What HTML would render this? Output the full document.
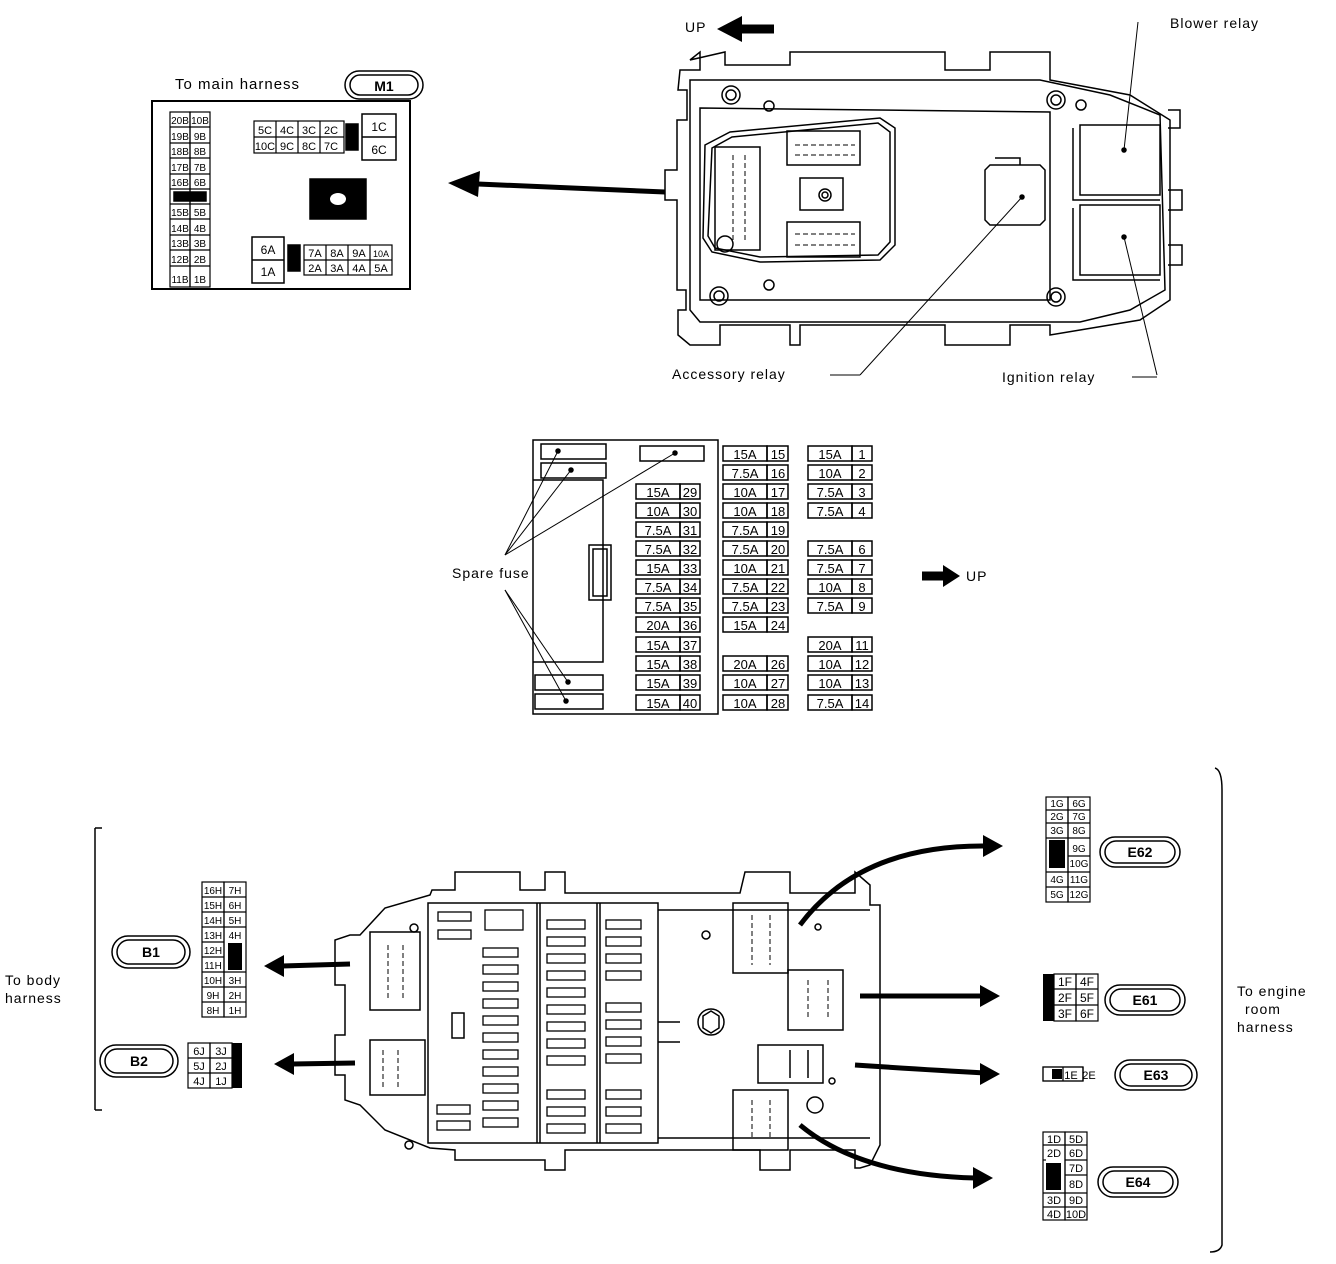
<!DOCTYPE html>
<html><head><meta charset="utf-8"><style>
html,body{margin:0;padding:0;background:#fff}
svg{display:block}
text{font-family:"Liberation Sans",Arial,sans-serif;fill:#000}
</style></head><body>
<svg width="1336" height="1264" viewBox="0 0 1336 1264" xmlns="http://www.w3.org/2000/svg">
<defs>
<marker id="ah" markerWidth="10" markerHeight="10" refX="2" refY="5" orient="auto" markerUnits="userSpaceOnUse"><path d="M0,0 L10,5 L0,10 Z"/></marker>
</defs>
<g fill="none" stroke="#000" stroke-width="1.5">

<!-- ===== TOP LEFT M1 ===== -->
<rect x="152" y="101" width="258" height="188" stroke-width="2"/>
<text x="175" y="89" font-size="15" stroke="none" letter-spacing="1">To main harness</text>
<rect x="345" y="71" width="78" height="28" rx="14"/>
<rect x="350" y="75" width="68" height="20" rx="10"/>
<text x="384" y="91" font-size="14" font-weight="bold" stroke="none" text-anchor="middle">M1</text>
<!-- B column -->
<g stroke-width="1.2">
<rect x="170" y="112" width="20" height="175"/><rect x="190" y="112" width="20" height="175"/>
<line x1="170" y1="127" x2="210" y2="127"/><line x1="170" y1="143" x2="210" y2="143"/>
<line x1="170" y1="158" x2="210" y2="158"/><line x1="170" y1="174" x2="210" y2="174"/>
<line x1="170" y1="189" x2="210" y2="189"/><line x1="170" y1="204" x2="210" y2="204"/>
<line x1="170" y1="219" x2="210" y2="219"/><line x1="170" y1="235" x2="210" y2="235"/>
<line x1="170" y1="250" x2="210" y2="250"/><line x1="170" y1="266" x2="210" y2="266"/>
</g>
<rect x="174" y="192" width="32" height="9" fill="#000"/>
<g font-size="10" stroke="none" text-anchor="middle">
<text x="180" y="124" stroke="none">20B</text><text x="200" y="124">10B</text>
<text x="180" y="140">19B</text><text x="200" y="140">9B</text>
<text x="180" y="155">18B</text><text x="200" y="155">8B</text>
<text x="180" y="171">17B</text><text x="200" y="171">7B</text>
<text x="180" y="186">16B</text><text x="200" y="186">6B</text>
<text x="180" y="216">15B</text><text x="200" y="216">5B</text>
<text x="180" y="232">14B</text><text x="200" y="232">4B</text>
<text x="180" y="247">13B</text><text x="200" y="247">3B</text>
<text x="180" y="263">12B</text><text x="200" y="263">2B</text>
<text x="180" y="283">11B</text><text x="200" y="283">1B</text>
</g>
<!-- C group -->
<rect x="254" y="121" width="90" height="32" stroke-width="1.2"/>
<line x1="254" y1="137" x2="344" y2="137" stroke-width="1.2"/>
<line x1="276" y1="121" x2="276" y2="153" stroke-width="1.2"/><line x1="298" y1="121" x2="298" y2="153" stroke-width="1.2"/><line x1="320" y1="121" x2="320" y2="153" stroke-width="1.2"/>
<rect x="346" y="124" width="12" height="26" fill="#000"/>
<rect x="362" y="114" width="34" height="46"/><line x1="362" y1="137" x2="396" y2="137"/>
<g font-size="11" stroke="none" text-anchor="middle">
<text x="265" y="134">5C</text><text x="287" y="134">4C</text><text x="309" y="134">3C</text><text x="331" y="134">2C</text>
<text x="265" y="150">10C</text><text x="287" y="150">9C</text><text x="309" y="150">8C</text><text x="331" y="150">7C</text>
<text x="379" y="131" font-size="12">1C</text><text x="379" y="154" font-size="12">6C</text>
</g>
<rect x="310" y="179" width="56" height="40" fill="#000"/>
<ellipse cx="338" cy="199" rx="8" ry="6" fill="#fff" stroke="none"/>
<!-- A group -->
<rect x="252" y="237" width="32" height="46"/><line x1="252" y1="260" x2="284" y2="260"/>
<rect x="288" y="245" width="12" height="26" fill="#000"/>
<rect x="304" y="245" width="88" height="30" stroke-width="1.2"/>
<line x1="304" y1="260" x2="392" y2="260" stroke-width="1.2"/>
<line x1="326" y1="245" x2="326" y2="275" stroke-width="1.2"/><line x1="348" y1="245" x2="348" y2="275" stroke-width="1.2"/><line x1="370" y1="245" x2="370" y2="275" stroke-width="1.2"/>
<g font-size="11" stroke="none" text-anchor="middle">
<text x="268" y="254" font-size="12">6A</text><text x="268" y="276" font-size="12">1A</text>
<text x="315" y="257">7A</text><text x="337" y="257">8A</text><text x="359" y="257">9A</text><text x="381" y="257" font-size="9">10A</text>
<text x="315" y="272">2A</text><text x="337" y="272">3A</text><text x="359" y="272">4A</text><text x="381" y="272">5A</text>
</g>
<!-- big arrow -->
<path d="M665,192 L478,184" stroke-width="5"/>
<path d="M448,183 L480,171 L478,197 Z" fill="#000" stroke="none"/>

<!-- ===== TOP RIGHT RELAY BOX ===== -->
<text x="685" y="32" font-size="14" stroke="none" letter-spacing="1">UP</text>
<path d="M774,29 L740,29" stroke-width="9"/>
<path d="M717,29 L742,16 L742,42 Z" fill="#000" stroke="none"/>
<path d="M690,60 L700,52 L700,70 L680,70 L678,90 L687,90 L687,120 L677,120 L677,170 L665,170 L665,200 L677,200 L677,290 L686,290 L686,310 L678,310 L678,335 L690,345 L720,345 L720,325 L790,325 L790,345 L800,345 L800,325 L945,325 L945,345 L1010,345 L1010,325 L1050,325 L1050,335 L1080,330 L1140,320 L1170,300 L1170,120 L1130,95 L1050,80 L1050,52 L990,52 L990,70 L945,70 L945,52 L790,52 L790,65 L725,65 L725,52 Z"/>
<path d="M690,80 L1040,80 L1110,95 L1160,115 L1165,290 L1130,310 L1080,322 L1040,322 L700,322 L690,310 Z"/>
<path d="M700,108 L1050,112 L1050,300 L700,300 Z"/>
<path d="M1168,110 L1180,110 L1180,128 L1168,128 M1168,190 L1182,190 L1182,210 L1168,210 M1168,245 L1182,245 L1182,265 L1168,265"/>
<circle cx="731" cy="95" r="9"/><circle cx="731" cy="95" r="5"/>
<circle cx="1056" cy="100" r="9"/><circle cx="1056" cy="100" r="5"/>
<circle cx="719" cy="296" r="9"/><circle cx="719" cy="296" r="5"/>
<circle cx="1056" cy="297" r="9"/><circle cx="1056" cy="297" r="5"/>
<circle cx="769" cy="106" r="5"/><circle cx="769" cy="285" r="5"/><circle cx="1081" cy="105" r="5"/>
<circle cx="725" cy="244" r="8"/>
<path d="M705,145 L730,132 L880,118 L895,128 L895,245 L880,260 L760,262 L712,252 L703,238 Z"/>
<path d="M712,148 L732,137 L878,123 L890,132 L890,242 L878,255 L760,257 L715,248 L708,236 Z"/>
<path d="M715,147 L760,147 L760,250 L715,250 Z"/>
<line x1="733" y1="155" x2="733" y2="240" stroke-dasharray="5,3" stroke-width="1"/>
<line x1="745" y1="155" x2="745" y2="240" stroke-dasharray="5,3" stroke-width="1"/>
<path d="M787,131 L860,131 L860,165 L787,165 Z"/>
<line x1="795" y1="145" x2="855" y2="145" stroke-dasharray="5,3" stroke-width="1"/>
<line x1="795" y1="155" x2="855" y2="155" stroke-dasharray="5,3" stroke-width="1"/>
<path d="M787,222 L860,222 L860,257 L787,257 Z"/>
<line x1="795" y1="234" x2="855" y2="234" stroke-dasharray="5,3" stroke-width="1"/>
<line x1="795" y1="245" x2="855" y2="245" stroke-dasharray="5,3" stroke-width="1"/>
<rect x="800" y="178" width="43" height="32"/><circle cx="825" cy="195" r="6"/><circle cx="825" cy="195" r="3"/>
<path d="M990,165 L1040,165 L1045,170 L1045,220 L1040,225 L990,225 L985,220 L985,170 Z"/>
<path d="M995,158 L1020,158 L1020,165"/>
<path d="M1080,125 L1160,125 L1160,195 L1080,195 Z"/><path d="M1073,128 L1073,200 L1160,200"/>
<path d="M1080,205 L1160,205 L1160,275 L1080,275 Z"/><path d="M1073,208 L1073,280 L1160,280"/>
<circle cx="1124" cy="150" r="2" fill="#000"/><circle cx="1124" cy="237" r="2" fill="#000"/><circle cx="1022" cy="197" r="2" fill="#000"/>
<line x1="1124" y1="150" x2="1138" y2="22" stroke-width="1"/>
<line x1="1124" y1="237" x2="1157" y2="375" stroke-width="1"/>
<line x1="1022" y1="197" x2="860" y2="375" stroke-width="1"/>
<text x="1170" y="28" font-size="14" stroke="none" letter-spacing="1">Blower relay</text>
<text x="672" y="379" font-size="14" stroke="none" letter-spacing="1">Accessory relay</text>
<line x1="830" y1="375" x2="860" y2="375" stroke-width="1"/>
<text x="1002" y="382" font-size="14" stroke="none" letter-spacing="1">Ignition relay</text>
<line x1="1132" y1="377" x2="1157" y2="377" stroke-width="1"/>

<!-- ===== FUSE PANEL ===== -->
<path d="M533,440 L718,440 L718,714 L533,714 Z" stroke-width="1.5"/>
<path d="M533,480 L603,480 L603,662 L533,662"/>
<rect x="541" y="444" width="65" height="15"/><rect x="541" y="463" width="65" height="15"/>
<rect x="640" y="446" width="64" height="15"/>
<rect x="535" y="675" width="68" height="15"/><rect x="535" y="694" width="68" height="15"/>
<rect x="589" y="545" width="22" height="55"/><rect x="593" y="549" width="14" height="47"/>
<circle cx="558" cy="451" r="2" fill="#000"/><circle cx="571" cy="470" r="2" fill="#000"/><circle cx="675" cy="453" r="2" fill="#000"/>
<circle cx="568" cy="682" r="2" fill="#000"/><circle cx="566" cy="701" r="2" fill="#000"/>
<line x1="505" y1="555" x2="558" y2="451" stroke-width="1"/>
<line x1="505" y1="555" x2="571" y2="470" stroke-width="1"/>
<line x1="505" y1="555" x2="675" y2="453" stroke-width="1"/>
<line x1="505" y1="590" x2="568" y2="682" stroke-width="1"/>
<line x1="505" y1="590" x2="566" y2="701" stroke-width="1"/>
<text x="452" y="578" font-size="14" stroke="none" letter-spacing="1">Spare fuse</text>
<path d="M922,576 L945,576" stroke-width="9"/><path d="M943,565 L960,576 L943,587 Z" fill="#000" stroke="none"/>
<text x="966" y="581" font-size="14" stroke="none" letter-spacing="1">UP</text>
</g>

<!-- fuse cells -->
<g font-size="13" stroke="#000" stroke-width="1.5" fill="none">
<!-- col A 636 -->
<g id="ca">
<rect x="636" y="484" width="44" height="15"/><rect x="680" y="484" width="20" height="15"/>
<rect x="636" y="503" width="44" height="15"/><rect x="680" y="503" width="20" height="15"/>
<rect x="636" y="522" width="44" height="15"/><rect x="680" y="522" width="20" height="15"/>
<rect x="636" y="541" width="44" height="15"/><rect x="680" y="541" width="20" height="15"/>
<rect x="636" y="560" width="44" height="15"/><rect x="680" y="560" width="20" height="15"/>
<rect x="636" y="579" width="44" height="15"/><rect x="680" y="579" width="20" height="15"/>
<rect x="636" y="598" width="44" height="15"/><rect x="680" y="598" width="20" height="15"/>
<rect x="636" y="617" width="44" height="15"/><rect x="680" y="617" width="20" height="15"/>
<rect x="636" y="637" width="44" height="15"/><rect x="680" y="637" width="20" height="15"/>
<rect x="636" y="656" width="44" height="15"/><rect x="680" y="656" width="20" height="15"/>
<rect x="636" y="675" width="44" height="15"/><rect x="680" y="675" width="20" height="15"/>
<rect x="636" y="695" width="44" height="15"/><rect x="680" y="695" width="20" height="15"/>
</g>
<!-- col B 723 -->
<rect x="723" y="446" width="44" height="15"/><rect x="767" y="446" width="21" height="15"/>
<rect x="723" y="465" width="44" height="15"/><rect x="767" y="465" width="21" height="15"/>
<rect x="723" y="484" width="44" height="15"/><rect x="767" y="484" width="21" height="15"/>
<rect x="723" y="503" width="44" height="15"/><rect x="767" y="503" width="21" height="15"/>
<rect x="723" y="522" width="44" height="15"/><rect x="767" y="522" width="21" height="15"/>
<rect x="723" y="541" width="44" height="15"/><rect x="767" y="541" width="21" height="15"/>
<rect x="723" y="560" width="44" height="15"/><rect x="767" y="560" width="21" height="15"/>
<rect x="723" y="579" width="44" height="15"/><rect x="767" y="579" width="21" height="15"/>
<rect x="723" y="598" width="44" height="15"/><rect x="767" y="598" width="21" height="15"/>
<rect x="723" y="617" width="44" height="15"/><rect x="767" y="617" width="21" height="15"/>
<rect x="723" y="656" width="44" height="15"/><rect x="767" y="656" width="21" height="15"/>
<rect x="723" y="675" width="44" height="15"/><rect x="767" y="675" width="21" height="15"/>
<rect x="723" y="695" width="44" height="15"/><rect x="767" y="695" width="21" height="15"/>
<!-- col C 808 -->
<rect x="808" y="446" width="44" height="15"/><rect x="852" y="446" width="20" height="15"/>
<rect x="808" y="465" width="44" height="15"/><rect x="852" y="465" width="20" height="15"/>
<rect x="808" y="484" width="44" height="15"/><rect x="852" y="484" width="20" height="15"/>
<rect x="808" y="503" width="44" height="15"/><rect x="852" y="503" width="20" height="15"/>
<rect x="808" y="541" width="44" height="15"/><rect x="852" y="541" width="20" height="15"/>
<rect x="808" y="560" width="44" height="15"/><rect x="852" y="560" width="20" height="15"/>
<rect x="808" y="579" width="44" height="15"/><rect x="852" y="579" width="20" height="15"/>
<rect x="808" y="598" width="44" height="15"/><rect x="852" y="598" width="20" height="15"/>
<rect x="808" y="637" width="44" height="15"/><rect x="852" y="637" width="20" height="15"/>
<rect x="808" y="656" width="44" height="15"/><rect x="852" y="656" width="20" height="15"/>
<rect x="808" y="675" width="44" height="15"/><rect x="852" y="675" width="20" height="15"/>
<rect x="808" y="695" width="44" height="15"/><rect x="852" y="695" width="20" height="15"/>
</g>
<g font-size="13" text-anchor="middle">
<text x="658" y="497">15A</text><text x="690" y="497">29</text>
<text x="658" y="516">10A</text><text x="690" y="516">30</text>
<text x="658" y="535">7.5A</text><text x="690" y="535">31</text>
<text x="658" y="554">7.5A</text><text x="690" y="554">32</text>
<text x="658" y="573">15A</text><text x="690" y="573">33</text>
<text x="658" y="592">7.5A</text><text x="690" y="592">34</text>
<text x="658" y="611">7.5A</text><text x="690" y="611">35</text>
<text x="658" y="630">20A</text><text x="690" y="630">36</text>
<text x="658" y="650">15A</text><text x="690" y="650">37</text>
<text x="658" y="669">15A</text><text x="690" y="669">38</text>
<text x="658" y="688">15A</text><text x="690" y="688">39</text>
<text x="658" y="708">15A</text><text x="690" y="708">40</text>
<text x="745" y="459">15A</text><text x="778" y="459">15</text>
<text x="745" y="478">7.5A</text><text x="778" y="478">16</text>
<text x="745" y="497">10A</text><text x="778" y="497">17</text>
<text x="745" y="516">10A</text><text x="778" y="516">18</text>
<text x="745" y="535">7.5A</text><text x="778" y="535">19</text>
<text x="745" y="554">7.5A</text><text x="778" y="554">20</text>
<text x="745" y="573">10A</text><text x="778" y="573">21</text>
<text x="745" y="592">7.5A</text><text x="778" y="592">22</text>
<text x="745" y="611">7.5A</text><text x="778" y="611">23</text>
<text x="745" y="630">15A</text><text x="778" y="630">24</text>
<text x="745" y="669">20A</text><text x="778" y="669">26</text>
<text x="745" y="688">10A</text><text x="778" y="688">27</text>
<text x="745" y="708">10A</text><text x="778" y="708">28</text>
<text x="830" y="459">15A</text><text x="862" y="459">1</text>
<text x="830" y="478">10A</text><text x="862" y="478">2</text>
<text x="830" y="497">7.5A</text><text x="862" y="497">3</text>
<text x="830" y="516">7.5A</text><text x="862" y="516">4</text>
<text x="830" y="554">7.5A</text><text x="862" y="554">6</text>
<text x="830" y="573">7.5A</text><text x="862" y="573">7</text>
<text x="830" y="592">10A</text><text x="862" y="592">8</text>
<text x="830" y="611">7.5A</text><text x="862" y="611">9</text>
<text x="830" y="650">20A</text><text x="862" y="650">11</text>
<text x="830" y="669">10A</text><text x="862" y="669">12</text>
<text x="830" y="688">10A</text><text x="862" y="688">13</text>
<text x="830" y="708">7.5A</text><text x="862" y="708">14</text>
</g>

<!-- ===== BOTTOM JUNCTION BLOCK ===== -->
<g fill="none" stroke="#000" stroke-width="1.5">
<path d="M95,828 L95,1110 M95,828 L102,828 M95,1110 L102,1110" stroke-width="1.5"/>
<path d="M1215,768 Q1222,770 1222,790 L1222,1245 Q1220,1252 1210,1252" stroke-width="1.5"/>
<text x="5" y="985" font-size="14" stroke="none" letter-spacing="1">To body</text>
<text x="5" y="1003" font-size="14" stroke="none" letter-spacing="1">harness</text>
<text x="1237" y="996" font-size="14" stroke="none" letter-spacing="1">To engine</text>
<text x="1245" y="1014" font-size="14" stroke="none" letter-spacing="1">room</text>
<text x="1237" y="1032" font-size="14" stroke="none" letter-spacing="1">harness</text>

<path d="M360,935 L385,908 L430,895 L432,890 L455,890 L455,872 L520,872 L520,890 L545,890 L545,872 L565,872 L565,893 L740,893 L745,872 L790,872 L790,893 L855,893 L855,872 L870,885 L870,905 L880,905 L880,1145 L870,1165 L860,1168 L855,1168 L855,1150 L790,1150 L790,1170 L760,1170 L760,1150 L565,1150 L565,1170 L545,1170 L545,1160 L455,1160 L455,1150 L430,1148 L385,1130 L360,1105 L345,1100 L345,1075 L335,1075 L335,1035 L345,1035 L345,985 L335,985 L335,940 L350,935 Z"/>
<rect x="428" y="903" width="230" height="240"/>
<line x1="537" y1="903" x2="537" y2="1143"/><line x1="540" y1="903" x2="540" y2="1143"/>
<line x1="597" y1="903" x2="597" y2="1143"/><line x1="600" y1="903" x2="600" y2="1143"/>
<line x1="658" y1="910" x2="870" y2="910"/><line x1="658" y1="1138" x2="870" y2="1138"/>
<line x1="658" y1="1022" x2="680" y2="1022"/><line x1="658" y1="1042" x2="680" y2="1042"/>
<!-- small fuse slots -->
<g stroke-width="1.3">
<rect x="438" y="912" width="33" height="9"/><rect x="438" y="930" width="33" height="9"/>
<rect x="485" y="910" width="38" height="20"/>
<rect x="437" y="1105" width="33" height="9"/><rect x="437" y="1121" width="33" height="9"/>
<rect x="483" y="948" width="35" height="9"/><rect x="483" y="965" width="35" height="9"/><rect x="483" y="982" width="35" height="9"/><rect x="483" y="999" width="35" height="9"/><rect x="483" y="1016" width="35" height="9"/><rect x="483" y="1033" width="35" height="9"/><rect x="483" y="1050" width="35" height="9"/><rect x="483" y="1067" width="35" height="9"/><rect x="483" y="1084" width="35" height="9"/><rect x="483" y="1101" width="35" height="9"/><rect x="483" y="1118" width="35" height="9"/>
<rect x="547" y="920" width="38" height="9"/><rect x="547" y="937" width="38" height="9"/><rect x="547" y="954" width="38" height="9"/><rect x="547" y="971" width="38" height="9"/><rect x="547" y="988" width="38" height="9"/><rect x="547" y="1005" width="38" height="9"/><rect x="547" y="1022" width="38" height="9"/><rect x="547" y="1039" width="38" height="9"/><rect x="547" y="1056" width="38" height="9"/><rect x="547" y="1090" width="38" height="9"/><rect x="547" y="1107" width="38" height="9"/><rect x="547" y="1124" width="38" height="9"/>
<rect x="606" y="920" width="35" height="9"/><rect x="606" y="937" width="35" height="9"/><rect x="606" y="954" width="35" height="9"/><rect x="606" y="971" width="35" height="9"/><rect x="606" y="1003" width="35" height="9"/><rect x="606" y="1020" width="35" height="9"/><rect x="606" y="1037" width="35" height="9"/><rect x="606" y="1054" width="35" height="9"/><rect x="606" y="1090" width="35" height="9"/><rect x="606" y="1107" width="35" height="9"/><rect x="606" y="1124" width="35" height="9"/>
</g>
<rect x="452" y="1013" width="12" height="25"/>
<!-- connectors -->
<rect x="370" y="932" width="50" height="78"/><line x1="388" y1="945" x2="388" y2="1000" stroke-dasharray="5,3" stroke-width="1"/><line x1="403" y1="945" x2="403" y2="1000" stroke-dasharray="5,3" stroke-width="1"/>
<rect x="370" y="1040" width="55" height="55"/><line x1="383" y1="1050" x2="383" y2="1090" stroke-dasharray="5,3" stroke-width="1"/><line x1="398" y1="1050" x2="398" y2="1090" stroke-dasharray="5,3" stroke-width="1"/>
<rect x="733" y="903" width="55" height="70"/><line x1="752" y1="915" x2="752" y2="965" stroke-dasharray="5,3" stroke-width="1"/><line x1="770" y1="915" x2="770" y2="965" stroke-dasharray="5,3" stroke-width="1"/>
<rect x="788" y="970" width="55" height="60"/><line x1="808" y1="980" x2="808" y2="1020" stroke-dasharray="5,3" stroke-width="1"/><line x1="828" y1="980" x2="828" y2="1020" stroke-dasharray="5,3" stroke-width="1"/>
<rect x="758" y="1045" width="65" height="38"/><line x1="790" y1="1050" x2="790" y2="1078"/><line x1="808" y1="1050" x2="808" y2="1078"/>
<rect x="733" y="1090" width="55" height="60"/><line x1="752" y1="1100" x2="752" y2="1140" stroke-dasharray="5,3" stroke-width="1"/><line x1="770" y1="1100" x2="770" y2="1140" stroke-dasharray="5,3" stroke-width="1"/>
<circle cx="711" cy="1022" r="13"/><path d="M703,1016 L711,1011 L719,1016 L719,1028 L711,1033 L703,1028 Z"/>
<circle cx="815" cy="1105" r="8"/><circle cx="706" cy="935" r="4"/><circle cx="414" cy="928" r="4"/><circle cx="409" cy="1145" r="4"/><circle cx="832" cy="1081" r="3"/><circle cx="818" cy="927" r="3"/>
</g>
<!-- harness arrows -->
<g stroke="#000" fill="none" stroke-width="5">
<path d="M350,964 L282,966"/><path d="M355,1063 L292,1064"/>
<path d="M800,925 Q860,845 985,846"/>
<path d="M860,996 L980,996"/>
<path d="M855,1065 Q930,1070 985,1073"/>
<path d="M800,1125 Q860,1175 975,1178"/>
</g>
<g fill="#000">
<path d="M264,966 L284,955 L284,977 Z"/><path d="M274,1064 L294,1053 L294,1075 Z"/>
<path d="M1003,846 L983,835 L983,857 Z"/><path d="M1000,996 L980,985 L980,1007 Z"/>
<path d="M1000,1074 L980,1063 L980,1085 Z"/><path d="M993,1178 L973,1167 L973,1189 Z"/>
</g>

<!-- B1 / B2 -->
<g fill="none" stroke="#000" stroke-width="1.5">
<rect x="112" y="936" width="78" height="32" rx="16"/><rect x="117" y="940" width="68" height="24" rx="12"/>
<rect x="100" y="1045" width="78" height="32" rx="16"/><rect x="105" y="1049" width="68" height="24" rx="12"/>
<g stroke-width="1.2">
<rect x="202" y="882" width="22" height="135"/><rect x="224" y="882" width="22" height="135"/>
<line x1="202" y1="897" x2="246" y2="897"/><line x1="202" y1="912" x2="246" y2="912"/><line x1="202" y1="927" x2="246" y2="927"/><line x1="202" y1="942" x2="224" y2="942"/><line x1="202" y1="957" x2="224" y2="957"/><line x1="202" y1="972" x2="246" y2="972"/><line x1="202" y1="987" x2="246" y2="987"/><line x1="202" y1="1002" x2="246" y2="1002"/>
<rect x="188" y="1043" width="22" height="45"/><rect x="210" y="1043" width="22" height="45"/>
<line x1="188" y1="1058" x2="232" y2="1058"/><line x1="188" y1="1073" x2="232" y2="1073"/>
</g>
</g>
<rect x="228" y="943" width="14" height="27" fill="#000"/>
<rect x="232" y="1043" width="10" height="45" fill="#000"/>
<g font-size="14" font-weight="bold" text-anchor="middle">
<text x="151" y="957">B1</text><text x="139" y="1066">B2</text>
</g>
<g font-size="10" text-anchor="middle">
<text x="213" y="894">16H</text><text x="235" y="894">7H</text>
<text x="213" y="909">15H</text><text x="235" y="909">6H</text>
<text x="213" y="924">14H</text><text x="235" y="924">5H</text>
<text x="213" y="939">13H</text><text x="235" y="939">4H</text>
<text x="213" y="954">12H</text>
<text x="213" y="969">11H</text>
<text x="213" y="984">10H</text><text x="235" y="984">3H</text>
<text x="213" y="999">9H</text><text x="235" y="999">2H</text>
<text x="213" y="1014">8H</text><text x="235" y="1014">1H</text>
<text x="199" y="1055" font-size="11">6J</text><text x="221" y="1055" font-size="11">3J</text>
<text x="199" y="1070" font-size="11">5J</text><text x="221" y="1070" font-size="11">2J</text>
<text x="199" y="1085" font-size="11">4J</text><text x="221" y="1085" font-size="11">1J</text>
</g>

<!-- E connectors -->
<g fill="none" stroke="#000" stroke-width="1.5">
<rect x="1100" y="837" width="80" height="30" rx="15"/><rect x="1105" y="841" width="70" height="22" rx="11"/>
<rect x="1105" y="985" width="80" height="30" rx="15"/><rect x="1110" y="989" width="70" height="22" rx="11"/>
<rect x="1115" y="1060" width="82" height="30" rx="15"/><rect x="1120" y="1064" width="72" height="22" rx="11"/>
<rect x="1098" y="1167" width="80" height="30" rx="15"/><rect x="1103" y="1171" width="70" height="22" rx="11"/>
<g stroke-width="1.2">
<rect x="1046" y="797" width="22" height="105"/><rect x="1068" y="797" width="22" height="105"/>
<line x1="1046" y1="810" x2="1090" y2="810"/><line x1="1046" y1="823" x2="1090" y2="823"/><line x1="1046" y1="838" x2="1090" y2="838"/><line x1="1068" y1="856" x2="1090" y2="856"/><line x1="1046" y1="872" x2="1090" y2="872"/><line x1="1046" y1="887" x2="1090" y2="887"/>
<rect x="1054" y="974" width="22" height="47"/><rect x="1076" y="974" width="22" height="47"/>
<line x1="1054" y1="989" x2="1098" y2="989"/><line x1="1054" y1="1005" x2="1098" y2="1005"/>
<rect x="1043" y="1067" width="40" height="14"/><line x1="1063" y1="1067" x2="1063" y2="1081"/><line x1="1083" y1="1067" x2="1083" y2="1081"/>
<rect x="1043" y="1067" width="40" height="14"/><rect x="1083" y="1067" width="0" height="14"/>
<rect x="1043" y="1132" width="22" height="88"/><rect x="1065" y="1132" width="22" height="88"/>
<line x1="1043" y1="1145" x2="1087" y2="1145"/><line x1="1065" y1="1160" x2="1087" y2="1160"/><line x1="1065" y1="1175" x2="1087" y2="1175"/><line x1="1043" y1="1193" x2="1087" y2="1193"/><line x1="1043" y1="1207" x2="1087" y2="1207"/><line x1="1043" y1="1160" x2="1046" y2="1160"/>
</g>
</g>
<rect x="1049" y="840" width="16" height="28" fill="#000"/>
<rect x="1043" y="974" width="11" height="47" fill="#000"/>
<rect x="1052" y="1069" width="10" height="10" fill="#000"/>
<rect x="1046" y="1163" width="15" height="27" fill="#000"/>
<g font-size="14" font-weight="bold" text-anchor="middle">
<text x="1140" y="857">E62</text><text x="1145" y="1005">E61</text><text x="1156" y="1080">E63</text><text x="1138" y="1187">E64</text>
</g>
<g font-size="10" text-anchor="middle">
<text x="1057" y="807">1G</text><text x="1079" y="807">6G</text>
<text x="1057" y="820">2G</text><text x="1079" y="820">7G</text>
<text x="1057" y="834">3G</text><text x="1079" y="834">8G</text>
<text x="1079" y="852">9G</text><text x="1079" y="867">10G</text>
<text x="1057" y="883">4G</text><text x="1079" y="883">11G</text>
<text x="1057" y="898">5G</text><text x="1079" y="898">12G</text>
<text x="1065" y="986" font-size="12">1F</text><text x="1087" y="986" font-size="12">4F</text>
<text x="1065" y="1002" font-size="12">2F</text><text x="1087" y="1002" font-size="12">5F</text>
<text x="1065" y="1018" font-size="12">3F</text><text x="1087" y="1018" font-size="12">6F</text>
<text x="1071" y="1079" font-size="11">1E</text><text x="1089" y="1079" font-size="11">2E</text>
<text x="1054" y="1143" font-size="11">1D</text><text x="1076" y="1143" font-size="11">5D</text>
<text x="1054" y="1157" font-size="11">2D</text><text x="1076" y="1157" font-size="11">6D</text>
<text x="1076" y="1172" font-size="11">7D</text><text x="1076" y="1188" font-size="11">8D</text>
<text x="1054" y="1204" font-size="11">3D</text><text x="1076" y="1204" font-size="11">9D</text>
<text x="1054" y="1218" font-size="11">4D</text><text x="1076" y="1218" font-size="11">10D</text>
</g>
</svg>
</body></html>
